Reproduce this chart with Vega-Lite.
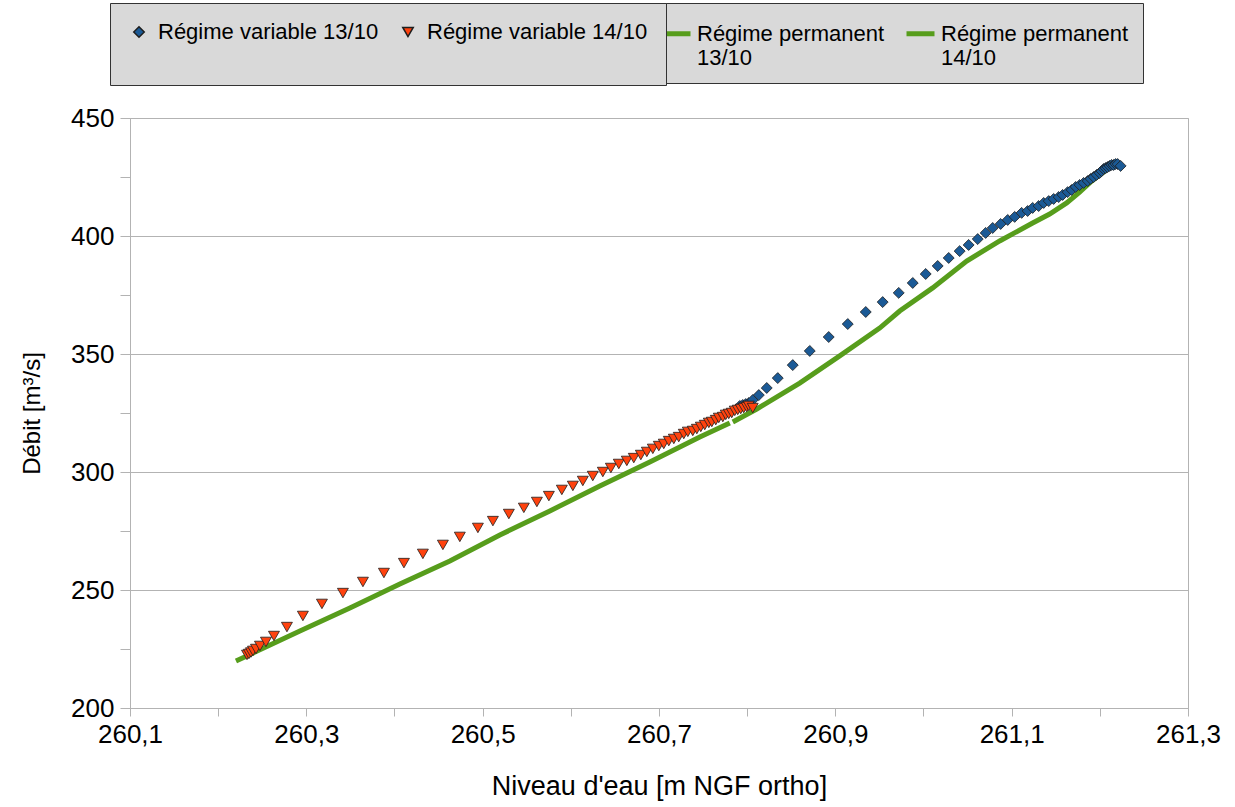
{
  "$schema": "https://vega.github.io/schema/vega-lite/v6.json",
  "width": 1058,
  "height": 590,
  "autosize": "none",
  "padding": {"left": 130, "top": 118, "right": 47, "bottom": 99},
  "background": "white",
  "config": {
    "font": "Liberation Sans",
    "view": {"stroke": "#b3b3b3", "strokeWidth": 1},
    "axis": {"labelFont": "Liberation Sans", "titleFont": "Liberation Sans", "titleFontWeight": "normal", "labelColor": "#000000", "titleColor": "#000000"}
  },
  "data": {"values": [
    {"serie": "Régime permanent 14/10", "niveau": 260.2202, "debit": 219.9},
    {"serie": "Régime permanent 14/10", "niveau": 260.2927, "debit": 232.6},
    {"serie": "Régime permanent 14/10", "niveau": 260.3494, "debit": 242.4},
    {"serie": "Régime permanent 14/10", "niveau": 260.4061, "debit": 252.5},
    {"serie": "Régime permanent 14/10", "niveau": 260.4628, "debit": 262.3},
    {"serie": "Régime permanent 14/10", "niveau": 260.5195, "debit": 273.3},
    {"serie": "Régime permanent 14/10", "niveau": 260.5762, "debit": 283.5},
    {"serie": "Régime permanent 14/10", "niveau": 260.6329, "debit": 294.1},
    {"serie": "Régime permanent 14/10", "niveau": 260.6896, "debit": 304.2},
    {"serie": "Régime permanent 14/10", "niveau": 260.7463, "debit": 314.8},
    {"serie": "Régime permanent 14/10", "niveau": 260.7803, "debit": 320.8},
    {"serie": "Régime permanent 13/10", "niveau": 260.7837, "debit": 321.2},
    {"serie": "Régime permanent 13/10", "niveau": 260.8109, "debit": 326.7},
    {"serie": "Régime permanent 13/10", "niveau": 260.8596, "debit": 337.7},
    {"serie": "Régime permanent 13/10", "niveau": 260.9050, "debit": 349.2},
    {"serie": "Régime permanent 13/10", "niveau": 260.9503, "debit": 361.0},
    {"serie": "Régime permanent 13/10", "niveau": 260.9730, "debit": 368.2},
    {"serie": "Régime permanent 13/10", "niveau": 261.0104, "debit": 378.0},
    {"serie": "Régime permanent 13/10", "niveau": 261.0490, "debit": 389.4},
    {"serie": "Régime permanent 13/10", "niveau": 261.0864, "debit": 397.9},
    {"serie": "Régime permanent 13/10", "niveau": 261.1238, "debit": 405.5},
    {"serie": "Régime permanent 13/10", "niveau": 261.1431, "debit": 409.3},
    {"serie": "Régime permanent 13/10", "niveau": 261.1624, "debit": 414.0},
    {"serie": "Régime permanent 13/10", "niveau": 261.1771, "debit": 418.6},
    {"serie": "Régime permanent 13/10", "niveau": 261.1884, "debit": 422.5},
    {"serie": "Régime permanent 13/10", "niveau": 261.1998, "debit": 425.9},
    {"serie": "Régime permanent 13/10", "niveau": 261.2088, "debit": 428.4},
    {"serie": "Régime variable 13/10", "niveau": 260.7916, "debit": 328.0},
    {"serie": "Régime variable 13/10", "niveau": 260.7950, "debit": 328.4},
    {"serie": "Régime variable 13/10", "niveau": 260.7984, "debit": 328.8},
    {"serie": "Régime variable 13/10", "niveau": 260.8018, "debit": 329.2},
    {"serie": "Régime variable 13/10", "niveau": 260.8063, "debit": 330.5},
    {"serie": "Régime variable 13/10", "niveau": 260.8132, "debit": 332.6},
    {"serie": "Régime variable 13/10", "niveau": 260.8222, "debit": 335.6},
    {"serie": "Régime variable 13/10", "niveau": 260.8347, "debit": 339.8},
    {"serie": "Régime variable 13/10", "niveau": 260.8517, "debit": 345.3},
    {"serie": "Régime variable 13/10", "niveau": 260.8710, "debit": 351.3},
    {"serie": "Régime variable 13/10", "niveau": 260.8925, "debit": 357.2},
    {"serie": "Régime variable 13/10", "niveau": 260.9141, "debit": 362.7},
    {"serie": "Régime variable 13/10", "niveau": 260.9345, "debit": 367.8},
    {"serie": "Régime variable 13/10", "niveau": 260.9537, "debit": 372.0},
    {"serie": "Régime variable 13/10", "niveau": 260.9719, "debit": 375.9},
    {"serie": "Régime variable 13/10", "niveau": 260.9878, "debit": 380.1},
    {"serie": "Régime variable 13/10", "niveau": 261.0025, "debit": 383.9},
    {"serie": "Régime variable 13/10", "niveau": 261.0161, "debit": 387.3},
    {"serie": "Régime variable 13/10", "niveau": 261.0286, "debit": 390.7},
    {"serie": "Régime variable 13/10", "niveau": 261.0410, "debit": 393.6},
    {"serie": "Régime variable 13/10", "niveau": 261.0512, "debit": 396.2},
    {"serie": "Régime variable 13/10", "niveau": 261.0615, "debit": 398.7},
    {"serie": "Régime variable 13/10", "niveau": 261.0705, "debit": 401.3},
    {"serie": "Régime variable 13/10", "niveau": 261.0785, "debit": 403.4},
    {"serie": "Régime variable 13/10", "niveau": 261.0875, "debit": 405.1},
    {"serie": "Régime variable 13/10", "niveau": 261.0955, "debit": 406.8},
    {"serie": "Régime variable 13/10", "niveau": 261.1034, "debit": 408.1},
    {"serie": "Régime variable 13/10", "niveau": 261.1113, "debit": 409.8},
    {"serie": "Régime variable 13/10", "niveau": 261.1181, "debit": 410.6},
    {"serie": "Régime variable 13/10", "niveau": 261.1238, "debit": 411.9},
    {"serie": "Régime variable 13/10", "niveau": 261.1306, "debit": 412.7},
    {"serie": "Régime variable 13/10", "niveau": 261.1363, "debit": 414.0},
    {"serie": "Régime variable 13/10", "niveau": 261.1420, "debit": 414.8},
    {"serie": "Régime variable 13/10", "niveau": 261.1476, "debit": 415.7},
    {"serie": "Régime variable 13/10", "niveau": 261.1533, "debit": 416.5},
    {"serie": "Régime variable 13/10", "niveau": 261.1578, "debit": 417.4},
    {"serie": "Régime variable 13/10", "niveau": 261.1635, "debit": 418.6},
    {"serie": "Régime variable 13/10", "niveau": 261.1680, "debit": 419.5},
    {"serie": "Régime variable 13/10", "niveau": 261.1726, "debit": 420.8},
    {"serie": "Régime variable 13/10", "niveau": 261.1771, "debit": 421.6},
    {"serie": "Régime variable 13/10", "niveau": 261.1816, "debit": 422.5},
    {"serie": "Régime variable 13/10", "niveau": 261.1862, "debit": 423.3},
    {"serie": "Régime variable 13/10", "niveau": 261.1896, "debit": 424.2},
    {"serie": "Régime variable 13/10", "niveau": 261.1930, "debit": 425.0},
    {"serie": "Régime variable 13/10", "niveau": 261.1964, "debit": 425.9},
    {"serie": "Régime variable 13/10", "niveau": 261.1998, "debit": 426.7},
    {"serie": "Régime variable 13/10", "niveau": 261.2020, "debit": 427.5},
    {"serie": "Régime variable 13/10", "niveau": 261.2043, "debit": 428.4},
    {"serie": "Régime variable 13/10", "niveau": 261.2066, "debit": 428.8},
    {"serie": "Régime variable 13/10", "niveau": 261.2088, "debit": 429.2},
    {"serie": "Régime variable 13/10", "niveau": 261.2111, "debit": 429.7},
    {"serie": "Régime variable 13/10", "niveau": 261.2134, "debit": 430.1},
    {"serie": "Régime variable 13/10", "niveau": 261.2156, "debit": 430.1},
    {"serie": "Régime variable 13/10", "niveau": 261.2179, "debit": 430.5},
    {"serie": "Régime variable 13/10", "niveau": 261.2202, "debit": 430.5},
    {"serie": "Régime variable 13/10", "niveau": 261.2236, "debit": 429.7},
    {"serie": "Régime variable 14/10", "niveau": 260.2327, "debit": 222.5},
    {"serie": "Régime variable 14/10", "niveau": 260.2349, "debit": 222.9},
    {"serie": "Régime variable 14/10", "niveau": 260.2372, "debit": 223.5},
    {"serie": "Régime variable 14/10", "niveau": 260.2395, "debit": 224.2},
    {"serie": "Régime variable 14/10", "niveau": 260.2429, "debit": 225.0},
    {"serie": "Régime variable 14/10", "niveau": 260.2474, "debit": 226.3},
    {"serie": "Régime variable 14/10", "niveau": 260.2542, "debit": 228.0},
    {"serie": "Régime variable 14/10", "niveau": 260.2633, "debit": 230.5},
    {"serie": "Régime variable 14/10", "niveau": 260.2780, "debit": 234.3},
    {"serie": "Régime variable 14/10", "niveau": 260.2961, "debit": 239.0},
    {"serie": "Régime variable 14/10", "niveau": 260.3177, "debit": 244.1},
    {"serie": "Régime variable 14/10", "niveau": 260.3415, "debit": 248.7},
    {"serie": "Régime variable 14/10", "niveau": 260.3642, "debit": 253.4},
    {"serie": "Régime variable 14/10", "niveau": 260.3880, "debit": 257.2},
    {"serie": "Régime variable 14/10", "niveau": 260.4107, "debit": 261.4},
    {"serie": "Régime variable 14/10", "niveau": 260.4322, "debit": 265.3},
    {"serie": "Régime variable 14/10", "niveau": 260.4549, "debit": 269.1},
    {"serie": "Régime variable 14/10", "niveau": 260.4741, "debit": 272.5},
    {"serie": "Régime variable 14/10", "niveau": 260.4946, "debit": 276.3},
    {"serie": "Régime variable 14/10", "niveau": 260.5116, "debit": 279.2},
    {"serie": "Régime variable 14/10", "niveau": 260.5297, "debit": 282.2},
    {"serie": "Régime variable 14/10", "niveau": 260.5467, "debit": 284.8},
    {"serie": "Régime variable 14/10", "niveau": 260.5615, "debit": 287.3},
    {"serie": "Régime variable 14/10", "niveau": 260.5751, "debit": 289.8},
    {"serie": "Régime variable 14/10", "niveau": 260.5898, "debit": 292.4},
    {"serie": "Régime variable 14/10", "niveau": 260.6023, "debit": 294.1},
    {"serie": "Régime variable 14/10", "niveau": 260.6136, "debit": 296.2},
    {"serie": "Régime variable 14/10", "niveau": 260.6249, "debit": 298.3},
    {"serie": "Régime variable 14/10", "niveau": 260.6363, "debit": 300.0},
    {"serie": "Régime variable 14/10", "niveau": 260.6454, "debit": 301.7},
    {"serie": "Régime variable 14/10", "niveau": 260.6544, "debit": 303.4},
    {"serie": "Régime variable 14/10", "niveau": 260.6635, "debit": 304.7},
    {"serie": "Régime variable 14/10", "niveau": 260.6714, "debit": 305.9},
    {"serie": "Régime variable 14/10", "niveau": 260.6794, "debit": 307.2},
    {"serie": "Régime variable 14/10", "niveau": 260.6862, "debit": 308.5},
    {"serie": "Régime variable 14/10", "niveau": 260.6930, "debit": 309.8},
    {"serie": "Régime variable 14/10", "niveau": 260.6998, "debit": 311.0},
    {"serie": "Régime variable 14/10", "niveau": 260.7054, "debit": 311.9},
    {"serie": "Régime variable 14/10", "niveau": 260.7111, "debit": 313.1},
    {"serie": "Régime variable 14/10", "niveau": 260.7168, "debit": 314.0},
    {"serie": "Régime variable 14/10", "niveau": 260.7224, "debit": 314.8},
    {"serie": "Régime variable 14/10", "niveau": 260.7281, "debit": 316.1},
    {"serie": "Régime variable 14/10", "niveau": 260.7327, "debit": 317.0},
    {"serie": "Régime variable 14/10", "niveau": 260.7383, "debit": 317.4},
    {"serie": "Régime variable 14/10", "niveau": 260.7429, "debit": 318.2},
    {"serie": "Régime variable 14/10", "niveau": 260.7474, "debit": 319.1},
    {"serie": "Régime variable 14/10", "niveau": 260.7519, "debit": 319.9},
    {"serie": "Régime variable 14/10", "niveau": 260.7565, "debit": 320.8},
    {"serie": "Régime variable 14/10", "niveau": 260.7599, "debit": 321.2},
    {"serie": "Régime variable 14/10", "niveau": 260.7644, "debit": 322.0},
    {"serie": "Régime variable 14/10", "niveau": 260.7678, "debit": 322.9},
    {"serie": "Régime variable 14/10", "niveau": 260.7724, "debit": 323.3},
    {"serie": "Régime variable 14/10", "niveau": 260.7757, "debit": 324.2},
    {"serie": "Régime variable 14/10", "niveau": 260.7791, "debit": 324.6},
    {"serie": "Régime variable 14/10", "niveau": 260.7825, "debit": 325.0},
    {"serie": "Régime variable 14/10", "niveau": 260.7859, "debit": 325.9},
    {"serie": "Régime variable 14/10", "niveau": 260.7893, "debit": 326.3},
    {"serie": "Régime variable 14/10", "niveau": 260.7927, "debit": 326.7},
    {"serie": "Régime variable 14/10", "niveau": 260.7961, "debit": 327.1},
    {"serie": "Régime variable 14/10", "niveau": 260.7995, "debit": 327.5},
    {"serie": "Régime variable 14/10", "niveau": 260.8018, "debit": 328.0},
    {"serie": "Régime variable 14/10", "niveau": 260.8063, "debit": 327.1}
  ]},
  "encoding": {
    "x": {
      "field": "niveau", "type": "quantitative",
      "scale": {"domain": [260.1, 261.3], "nice": false, "zero": false},
      "axis": {
        "title": "Niveau d'eau [m NGF ortho]",
        "values": [260.1, 260.2, 260.3, 260.4, 260.5, 260.6, 260.7, 260.8, 260.9, 261.0, 261.1, 261.2, 261.3],
        "labelExpr": "round(datum.value*10) % 2 == 1 ? replace(format(datum.value, '.1f'), '.', ',') : ''",
        "grid": false,
        "domainColor": "#b3b3b3", "tickColor": "#b3b3b3", "tickSize": 8,
        "labelFontSize": 26, "labelPadding": 5, "labelFlush": false, "labelOverlap": false,
        "titleFontSize": 27, "titlePadding": 26
      }
    },
    "y": {
      "field": "debit", "type": "quantitative",
      "scale": {"domain": [200, 450], "nice": false, "zero": false},
      "axis": {
        "title": "Débit [m³/s]",
        "values": [200, 225, 250, 275, 300, 325, 350, 375, 400, 425, 450],
        "labelExpr": "datum.value % 50 == 0 ? datum.label : ''",
        "grid": true, "gridColor": "#b3b3b3",
        "gridOpacity": {"condition": {"test": "datum.value % 50 == 0", "value": 1}, "value": 0},
        "domainColor": "#b3b3b3", "tickColor": "#b3b3b3", "tickSize": 10,
        "labelFontSize": 26, "labelPadding": 6, "labelOverlap": false,
        "titleFontSize": 24, "titlePadding": 26
      }
    }
  },
  "layer": [
    {
      "transform": [{"filter": "indexof(datum.serie, 'permanent') >= 0"}],
      "mark": {"type": "line", "strokeWidth": 5},
      "encoding": {
        "stroke": {
          "field": "serie", "type": "nominal",
          "scale": {"domain": ["Régime permanent 13/10", "Régime permanent 14/10"], "range": ["#579d1c", "#579d1c"]},
          "legend": {
            "title": null,
            "orient": "none", "legendX": 516, "legendY": -115,
            "direction": "horizontal", "columns": 2,
            "symbolType": "stroke", "symbolStrokeWidth": 5, "symbolSize": 784,
            "labelFont": "Liberation Sans", "labelFontSize": 22, "labelColor": "#000000", "labelLimit": 400,
            "labelExpr": "['Régime permanent', substring(datum.label, 17, 40)]",
            "fillColor": "#d9d9d9", "strokeColor": "#333333",
            "padding": 14, "columnPadding": 11, "labelOffset": 4
          }
        }
      }
    },
    {
      "transform": [{"filter": "indexof(datum.serie, 'variable') >= 0"}],
      "mark": {"type": "point", "filled": true, "size": 120, "stroke": "#1e1e1e", "strokeWidth": 0.8, "opacity": 1},
      "encoding": {
        "fill": {
          "field": "serie", "type": "nominal",
          "scale": {"domain": ["Régime variable 13/10", "Régime variable 14/10"], "range": ["#1b5a96", "#ff420e"]},
          "legend": {
            "title": null,
            "orient": "none", "legendX": -20, "legendY": -115,
            "direction": "horizontal", "columns": 2,
            "symbolSize": 110,
            "labelFont": "Liberation Sans", "labelFontSize": 22, "labelColor": "#000000", "labelLimit": 400,
            "labelExpr": "[datum.label, ' ']",
            "fillColor": "#d9d9d9", "strokeColor": "#333333",
            "padding": 18, "columnPadding": 18, "labelOffset": 8
          }
        },
        "shape": {
          "field": "serie", "type": "nominal",
          "scale": {"domain": ["Régime variable 13/10", "Régime variable 14/10"], "range": ["diamond", "triangle-down"]},
          "legend": {
            "title": null,
            "orient": "none", "legendX": -20, "legendY": -115,
            "direction": "horizontal", "columns": 2,
            "symbolSize": 110,
            "labelFont": "Liberation Sans", "labelFontSize": 22, "labelColor": "#000000", "labelLimit": 400,
            "labelExpr": "[datum.label, ' ']",
            "fillColor": "#d9d9d9", "strokeColor": "#333333",
            "padding": 18, "columnPadding": 18, "labelOffset": 8
          }
        }
      }
    }
  ]
}
